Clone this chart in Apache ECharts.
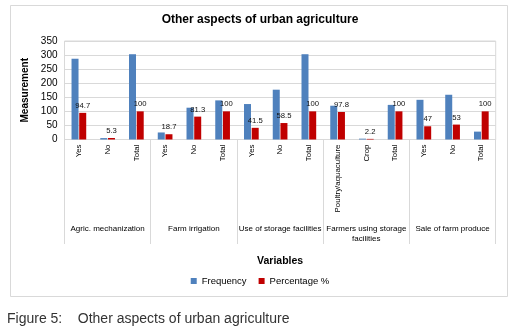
<!DOCTYPE html>
<html>
<head>
<meta charset="utf-8">
<script src="https://cdn.jsdelivr.net/npm/echarts@6/dist/echarts.min.js"></script>
<style>
html,body{margin:0;padding:0;background:#fff;}
#c{width:520px;height:336px;}
</style>
</head>
<body>
<div id="c"></div>
<script>
const categories = ['Yes','No','Total','Yes','No','Total','Yes','No','Total','Poultry/aquaculture','Crop','Total','Yes','No','Total'];
const groups = ['Agric. mechanization','Farm irrigation','Use of storage facilities','Farmers using storage\nfacilities','Sale of farm produce'];
const frequency = [287, 5, 303, 25, 113, 139, 126, 177, 303, 120, 3, 123, 141, 159, 28];
const percentage = [94.7, 5.3, 100, 18.7, 81.3, 100, 41.5, 58.5, 100, 97.8, 2.2, 100, 47, 53, 100];
const yTicks = [0, 50, 100, 150, 200, 250, 300, 350];

const SANS = "'Liberation Sans', Arial, sans-serif";
const GRID = '#d9d9d9';

const chart = echarts.init(document.getElementById('c'), null, {renderer: 'canvas'});
chart.setOption({
  animation: false,
  backgroundColor: '#fff',
  title: {
    text: 'Other aspects of urban agriculture',
    left: 'center', top: 14, padding: 0,
    textStyle: {fontFamily: SANS, fontSize: 12, fontWeight: 'bold', color: '#000'}
  },
  legend: {
    data: ['Frequency', 'Percentage %'],
    left: 'center', top: 276, padding: 0,
    itemWidth: 6, itemHeight: 6, itemGap: 12,
    icon: 'rect',
    textStyle: {fontFamily: SANS, fontSize: 9.5, color: '#000'}
  },
  grid: {left: 64.5, right: 24.3, top: 41, bottom: 196.5, show: true, borderColor: GRID, borderWidth: 1},
  xAxis: [
    {
      type: 'category', data: categories, position: 'bottom',
      axisLine: {show: true, lineStyle: {color: GRID}},
      axisTick: {show: false},
      axisLabel: {rotate: 90, margin: 5, interval: 0, fontFamily: SANS, fontSize: 7.9, color: '#000'}
    },
    {
      type: 'category', data: groups, position: 'bottom', offset: 0,
      axisLine: {show: false},
      axisTick: {show: true, length: 104.5, lineStyle: {color: GRID}},
      axisLabel: {margin: 84, interval: 0, fontFamily: SANS, fontSize: 8, color: '#000', lineHeight: 10},
      name: 'Variables', nameLocation: 'middle', nameGap: 116,
      nameTextStyle: {fontFamily: SANS, fontSize: 10.5, fontWeight: 'bold', color: '#000'}
    }
  ],
  yAxis: {
    type: 'value', min: yTicks[0], max: yTicks[yTicks.length - 1], interval: 50,
    axisLine: {show: false}, axisTick: {show: false},
    splitLine: {lineStyle: {color: GRID}},
    axisLabel: {margin: 7, fontFamily: SANS, fontSize: 10, color: '#000'},
    name: 'Measurement', nameLocation: 'middle', nameGap: 34,
    nameTextStyle: {fontFamily: SANS, fontSize: 10, fontWeight: 'bold', color: '#000'}
  },
  series: [
    {
      name: 'Frequency', type: 'bar', xAxisIndex: 0, data: frequency,
      barWidth: 7, barGap: '10%',
      itemStyle: {color: '#4F81BD'}
    },
    {
      name: 'Percentage %', type: 'bar', xAxisIndex: 0, data: percentage,
      barWidth: 7, barGap: '10%',
      itemStyle: {color: '#C00000'},
      label: {show: true, position: 'top', distance: 3, fontFamily: SANS, fontSize: 7.7, color: '#111'}
    }
  ],
  graphic: [
    {type: 'rect', shape: {x: 10.5, y: 5.5, width: 497, height: 291}, style: {fill: 'none', stroke: GRID, lineWidth: 1}, silent: true, z: -1},
    {type: 'text', left: 7, top: 312, style: {text: 'Figure 5:    Other aspects of urban agriculture', font: '14px ' + SANS, fill: '#333'}}
  ]
});
</script>
</body>
</html>
